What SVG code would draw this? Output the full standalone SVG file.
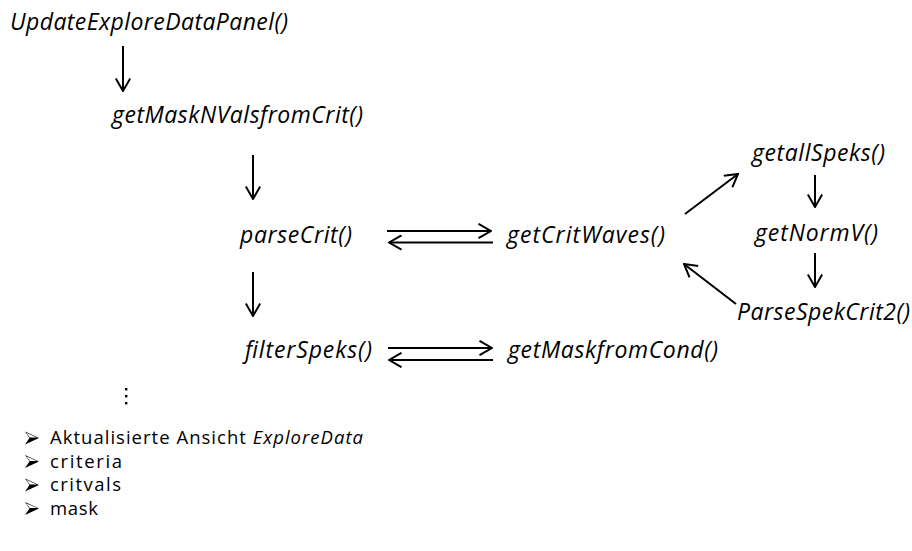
<svg xmlns="http://www.w3.org/2000/svg" width="912" height="551" viewBox="0 0 912 551">
  <style>
    .fn { font-family: "Open Sans", "Liberation Sans", Arial, sans-serif; font-style: italic; font-size: 23px; fill: #000; }
    .li { font-family: "Open Sans", "Liberation Sans", Arial, sans-serif; font-size: 18.5px; fill: #000; }
    .ln { stroke: #000; stroke-width: 2; fill: none; marker-end: url(#head); }
  </style>
  <defs>
    <marker id="head" viewBox="0 0 14 16" refX="13" refY="8" markerWidth="14" markerHeight="16" markerUnits="userSpaceOnUse" orient="auto">
      <path d="M0.5,0.8 L13,8 L0.5,15.2" fill="none" stroke="#000" stroke-width="2"/>
    </marker>
    <!-- list bullet: dart-shaped arrowhead with a light upper facet -->
    <g id="dart">
      <path d="M0,0 L14,6.5 L0,13 L4.5,6.5 Z" fill="#000"/>
      <path d="M1.3,1.3 L11.8,6 L4.8,6 Z" fill="#fff"/>
    </g>
  </defs>
  <rect width="912" height="551" fill="#fff"/>

  <g id="connectors">
    <line class="ln" x1="123" y1="46" x2="123" y2="91"/>
    <line class="ln" x1="253" y1="155" x2="253" y2="199"/>
    <line class="ln" x1="253" y1="272" x2="253" y2="316"/>
    <line class="ln" x1="387" y1="231" x2="491" y2="231"/>
    <line class="ln" x1="493" y1="242.5" x2="389" y2="242.5"/>
    <line class="ln" x1="388" y1="348" x2="492" y2="348"/>
    <line class="ln" x1="493" y1="360" x2="389" y2="360"/>
    <line class="ln" x1="685" y1="214" x2="738" y2="174"/>
    <line class="ln" x1="815" y1="175" x2="815" y2="207"/>
    <line class="ln" x1="815" y1="253" x2="815" y2="287"/>
    <line class="ln" x1="736" y1="304" x2="684" y2="264"/>
  </g>

  <g id="update-explore-data-panel"><text class="fn" x="10" y="30" textLength="278" lengthAdjust="spacing">UpdateExploreDataPanel()</text></g>
  <g id="get-mask-n-vals-from-crit"><text class="fn" x="112" y="123" textLength="251" lengthAdjust="spacing">getMaskNValsfromCrit()</text></g>
  <g id="parse-crit"><text class="fn" x="240" y="243" textLength="112" lengthAdjust="spacing">parseCrit()</text></g>
  <g id="get-crit-waves"><text class="fn" x="507" y="243" textLength="158" lengthAdjust="spacing">getCritWaves()</text></g>
  <g id="get-all-speks"><text class="fn" x="752" y="161" textLength="133" lengthAdjust="spacing">getallSpeks()</text></g>
  <g id="get-norm-v"><text class="fn" x="755" y="241" textLength="123" lengthAdjust="spacing">getNormV()</text></g>
  <g id="parse-spek-crit2"><text class="fn" x="737" y="320" textLength="173" lengthAdjust="spacing">ParseSpekCrit2()</text></g>
  <g id="filter-speks"><text class="fn" x="245" y="358" textLength="127" lengthAdjust="spacing">filterSpeks()</text></g>
  <g id="get-mask-from-cond"><text class="fn" x="508" y="358" textLength="210" lengthAdjust="spacing">getMaskfromCond()</text></g>

  <g id="ellipsis" fill="#000">
    <rect x="125" y="388" width="2.4" height="2.4"/>
    <rect x="125" y="395" width="2.4" height="2.4"/>
    <rect x="125" y="402" width="2.4" height="2.4"/>
  </g>

  <g id="outputs">
    <use href="#dart" x="25" y="431.5"/>
    <text class="li" x="50" y="444" textLength="313" lengthAdjust="spacing">Aktualisierte Ansicht <tspan font-style="italic">ExploreData</tspan></text>
    <use href="#dart" x="25" y="455"/>
    <text class="li" x="50" y="467.5" textLength="72" lengthAdjust="spacing">criteria</text>
    <use href="#dart" x="25" y="478.5"/>
    <text class="li" x="50" y="491" textLength="71" lengthAdjust="spacing">critvals</text>
    <use href="#dart" x="25" y="502"/>
    <text class="li" x="50" y="514.5" textLength="48" lengthAdjust="spacing">mask</text>
  </g>
</svg>
